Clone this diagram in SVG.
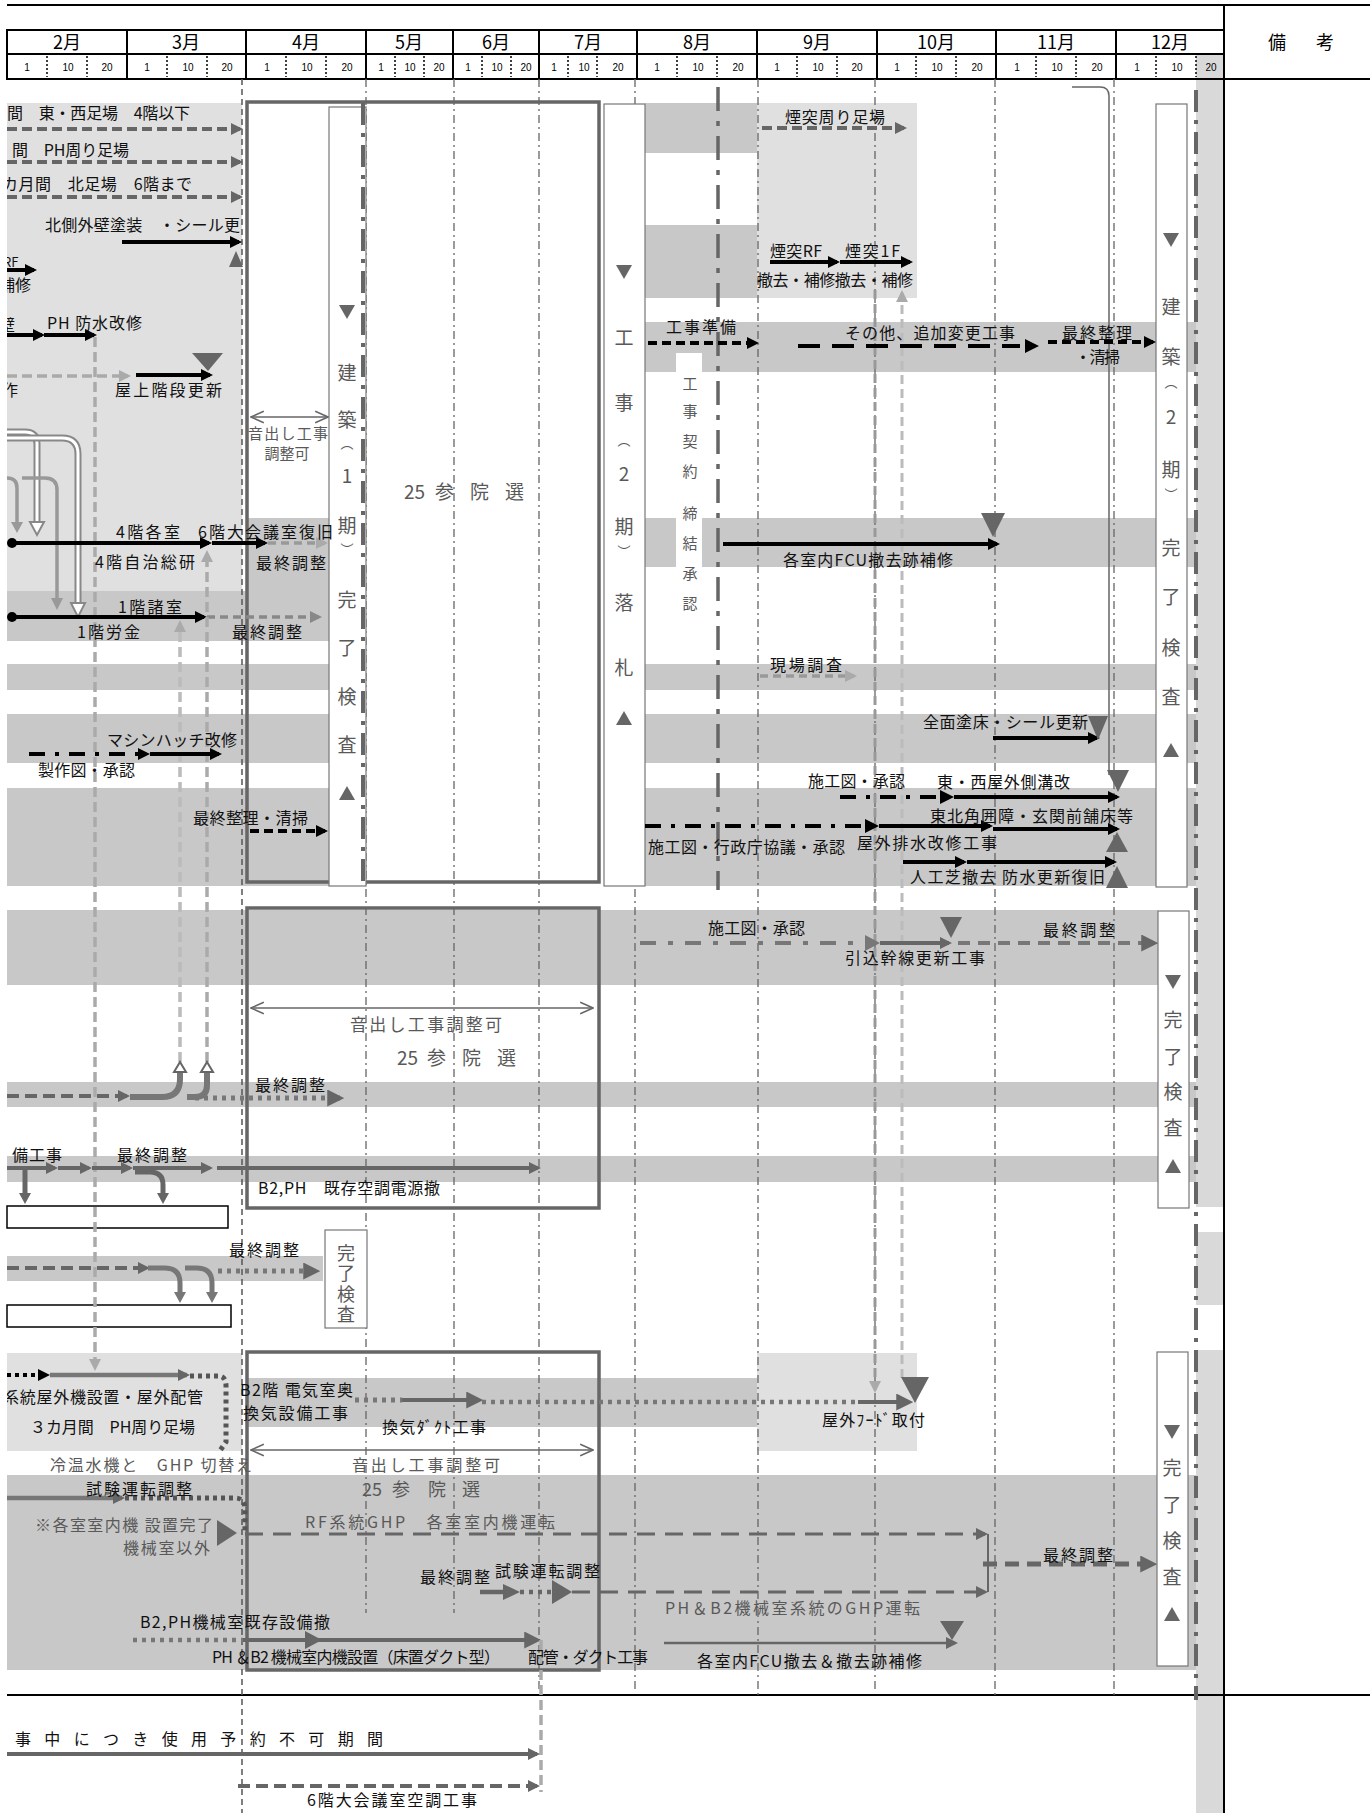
<svg xmlns="http://www.w3.org/2000/svg" width="1370" height="1813" viewBox="0 0 1370 1813">
<defs>
<style>
.t{font-family:"Noto Sans CJK JP","Noto Sans CJK SC",sans-serif;font-size:16px;fill:#111}
.tg{fill:#595959}
.v{font-family:"Noto Sans CJK JP","Noto Sans CJK SC",sans-serif;font-size:19px;text-anchor:middle;fill:#595959}
.p{font-size:13px}
.hm{font-family:"Noto Sans CJK JP","Noto Sans CJK SC",sans-serif;font-size:18px;text-anchor:middle;fill:#000}
.hd{font-family:"Liberation Sans",Arial,sans-serif;font-size:10px;text-anchor:middle;fill:#000}
.band{fill:#c8c8c8}
.lt{fill:#e0e0e0}
.col{fill:#d9d9d9}
.hl{stroke:#000;stroke-width:2;fill:none}
.hdot{stroke:#000;stroke-width:1.5;stroke-dasharray:2 2}
.mv{stroke:#666;stroke-width:1.3;stroke-dasharray:8 4 2 4;fill:none}
.box{fill:none;stroke:#666;stroke-width:3.5}
.wb{fill:#fff;stroke:#777;stroke-width:1.2}
.lb{stroke:#000;stroke-width:4;fill:none}
.lg{stroke:#666;stroke-width:4;fill:none}
.ll{stroke:#aaa;stroke-width:3.5;fill:none}
.dash{stroke-dasharray:10 5}
.dd{stroke-dasharray:16 10 4 10}
.thin{stroke:#666;stroke-width:1.5;fill:none}
.tri{fill:#666}
</style>
<clipPath id="cl"><rect x="7" y="0" width="1363" height="1813"/></clipPath>
<marker id="mb" viewBox="0 0 12 12" markerWidth="13" markerHeight="12" refX="9" refY="6" orient="auto" markerUnits="userSpaceOnUse"><path d="M0,0L12,6L0,12z" fill="#000"/></marker>
<marker id="mg" viewBox="0 0 12 12" markerWidth="13" markerHeight="12" refX="9" refY="6" orient="auto" markerUnits="userSpaceOnUse"><path d="M0,0L12,6L0,12z" fill="#666"/></marker>
<marker id="m9" viewBox="0 0 12 12" markerWidth="13" markerHeight="12" refX="9" refY="6" orient="auto" markerUnits="userSpaceOnUse"><path d="M0,0L12,6L0,12z" fill="#888"/></marker>
<marker id="ml" viewBox="0 0 12 12" markerWidth="13" markerHeight="12" refX="9" refY="6" orient="auto" markerUnits="userSpaceOnUse"><path d="M0,0L12,6L0,12z" fill="#aaa"/></marker>
<marker id="mG" viewBox="0 0 12 12" markerWidth="17" markerHeight="17" refX="9" refY="6" orient="auto" markerUnits="userSpaceOnUse"><path d="M0,0L12,6L0,12z" fill="#666"/></marker>
<marker id="mo" viewBox="0 0 12 12" markerWidth="14" markerHeight="14" refX="11" refY="6" orient="auto-start-reverse" markerUnits="userSpaceOnUse"><path d="M0,1L11,6L0,11" fill="none" stroke="#666" stroke-width="1.3"/></marker>
</defs>
<rect width="1370" height="1813" fill="#fff"/>

<g id="backgrounds" clip-path="url(#cl)">
<rect class="lt" x="7" y="103" width="235" height="488"/>
<rect class="band" x="7" y="591" width="323" height="50"/>
<rect class="band" x="246" y="518" width="84" height="73"/>
<rect class="band" x="7" y="664" width="323" height="26"/>
<rect class="band" x="7" y="714" width="323" height="49"/>
<rect class="band" x="7" y="788" width="323" height="98"/>
<rect class="band" x="645" y="103" width="112" height="50"/>
<rect class="lt" x="757" y="103" width="160" height="195"/>
<rect class="band" x="645" y="225" width="112" height="73"/>
<rect class="band" x="645" y="322" width="551" height="50"/>
<rect class="band" x="645" y="518" width="551" height="49"/>
<rect class="band" x="645" y="664" width="551" height="26"/>
<rect class="band" x="645" y="714" width="551" height="49"/>
<rect class="band" x="645" y="788" width="551" height="98"/>
<rect fill="#fff" x="676" y="353" width="26" height="262"/>
<rect class="band" x="7" y="910" width="1151" height="75"/>
<rect class="band" x="7" y="1082" width="1189" height="25"/>
<rect class="band" x="7" y="1156" width="1189" height="26"/>
<rect class="band" x="7" y="1256" width="316" height="25"/>
<rect class="lt" x="7" y="1353" width="235" height="98"/>
<rect class="lt" x="757" y="1353" width="160" height="98"/>
<rect class="band" x="246" y="1378" width="511" height="49"/>
<rect class="band" x="7" y="1475" width="1189" height="195"/>
<rect class="col" x="1196" y="54" width="28" height="1153"/>
<rect class="col" x="1196" y="1232" width="28" height="73"/>
<rect class="col" x="1196" y="1350" width="28" height="463"/>
</g>

<g id="header">
<line class="hl" x1="7" y1="5" x2="1370" y2="5" stroke-width="1.5"/>
<line class="hl" x1="1224" y1="5" x2="1224" y2="1813"/>
<rect class="hl" x="7" y="30" width="1217" height="49"/>
<line class="hl" x1="7" y1="54" x2="1224" y2="54"/>
<line class="hl" x1="1224" y1="79" x2="1370" y2="79"/>
<line class="hl" x1="7" y1="1695" x2="1370" y2="1695"/>
<g class="hl">
<line x1="127" y1="30" x2="127" y2="79"/><line x1="246" y1="30" x2="246" y2="79"/><line x1="366" y1="30" x2="366" y2="79"/><line x1="453" y1="30" x2="453" y2="79"/><line x1="539" y1="30" x2="539" y2="79"/><line x1="637" y1="30" x2="637" y2="79"/><line x1="757" y1="30" x2="757" y2="79"/><line x1="877" y1="30" x2="877" y2="79"/><line x1="996" y1="30" x2="996" y2="79"/><line x1="1116" y1="30" x2="1116" y2="79"/>
</g>
<g class="hdot">
<line x1="47" y1="56" x2="47" y2="77"/><line x1="87" y1="56" x2="87" y2="77"/><line x1="167" y1="56" x2="167" y2="77"/><line x1="207" y1="56" x2="207" y2="77"/><line x1="286" y1="56" x2="286" y2="77"/><line x1="326" y1="56" x2="326" y2="77"/><line x1="395" y1="56" x2="395" y2="77"/><line x1="424" y1="56" x2="424" y2="77"/><line x1="482" y1="56" x2="482" y2="77"/><line x1="511" y1="56" x2="511" y2="77"/><line x1="568" y1="56" x2="568" y2="77"/><line x1="597" y1="56" x2="597" y2="77"/><line x1="677" y1="56" x2="677" y2="77"/><line x1="717" y1="56" x2="717" y2="77"/><line x1="797" y1="56" x2="797" y2="77"/><line x1="837" y1="56" x2="837" y2="77"/><line x1="916" y1="56" x2="916" y2="77"/><line x1="956" y1="56" x2="956" y2="77"/><line x1="1036" y1="56" x2="1036" y2="77"/><line x1="1076" y1="56" x2="1076" y2="77"/><line x1="1156" y1="56" x2="1156" y2="77"/><line x1="1196" y1="56" x2="1196" y2="77"/>
</g>
<text class="hm" x="67" y="49">2月</text><text class="hm" x="186" y="49">3月</text><text class="hm" x="306" y="49">4月</text><text class="hm" x="409" y="49">5月</text><text class="hm" x="496" y="49">6月</text><text class="hm" x="588" y="49">7月</text><text class="hm" x="697" y="49">8月</text><text class="hm" x="817" y="49">9月</text><text class="hm" x="936" y="49">10月</text><text class="hm" x="1056" y="49">11月</text><text class="hm" x="1170" y="49">12月</text>
<text class="hm" x="1277" y="49">備</text><text class="hm" x="1325" y="49">考</text>
<g class="hd">
<text x="27" y="71">1</text><text x="68" y="71">10</text><text x="107" y="71">20</text>
<text x="147" y="71">1</text><text x="188" y="71">10</text><text x="227" y="71">20</text>
<text x="267" y="71">1</text><text x="307" y="71">10</text><text x="347" y="71">20</text>
<text x="381" y="71">1</text><text x="410" y="71">10</text><text x="439" y="71">20</text>
<text x="468" y="71">1</text><text x="497" y="71">10</text><text x="526" y="71">20</text>
<text x="554" y="71">1</text><text x="584" y="71">10</text><text x="618" y="71">20</text>
<text x="657" y="71">1</text><text x="698" y="71">10</text><text x="738" y="71">20</text>
<text x="777" y="71">1</text><text x="818" y="71">10</text><text x="857" y="71">20</text>
<text x="897" y="71">1</text><text x="937" y="71">10</text><text x="977" y="71">20</text>
<text x="1017" y="71">1</text><text x="1057" y="71">10</text><text x="1097" y="71">20</text>
<text x="1137" y="71">1</text><text x="1177" y="71">10</text><text x="1211" y="71">20</text>
</g>
</g>

<g id="month-lines">
<line x1="242" y1="79" x2="242" y2="1813" stroke="#555" stroke-width="1.5" stroke-dasharray="6 4"/>
<line class="mv" x1="366" y1="79" x2="366" y2="1613"/>
<line class="mv" x1="454" y1="79" x2="454" y2="1613"/>
<line class="mv" x1="539" y1="79" x2="539" y2="1692"/>
<line class="mv" x1="635" y1="79" x2="635" y2="1692"/>
<line class="mv" x1="758" y1="79" x2="758" y2="1697"/>
<line class="mv" x1="875" y1="79" x2="875" y2="1692"/>
<line class="mv" x1="995" y1="79" x2="995" y2="1695"/>
<line class="mv" x1="1114" y1="79" x2="1114" y2="1695"/>
</g>

<g id="box-sanin-1">
<rect class="box" x="247" y="102" width="352" height="780"/>
</g>
<g id="box-kenchiku-1">
<rect class="wb" x="329" y="107" width="37" height="779"/>
<polygon class="tri" points="339,305 355,305 347,319"/>
<text class="v"><tspan x="347" y="380">建</tspan><tspan x="347" y="427">築</tspan><tspan class="p" x="347" y="448">︵</tspan><tspan x="347" y="483">1</tspan><tspan x="347" y="533">期</tspan><tspan class="p" x="347" y="554">︶</tspan><tspan x="347" y="607">完</tspan><tspan x="347" y="655">了</tspan><tspan x="347" y="704">検</tspan><tspan x="347" y="752">査</tspan></text>
<polygon class="tri" points="339,800 355,800 347,786"/>
</g>
<g id="box-kouji-2">
<rect class="wb" x="604" y="104" width="41" height="782"/>
<polygon class="tri" points="616,265 632,265 624,279"/>
<text class="v"><tspan x="624" y="345">工</tspan><tspan x="624" y="410">事</tspan><tspan class="p" x="624" y="445">︵</tspan><tspan x="624" y="481">2</tspan><tspan x="624" y="534">期</tspan><tspan class="p" x="624" y="556">︶</tspan><tspan x="624" y="610">落</tspan><tspan x="624" y="675">札</tspan></text>
<polygon class="tri" points="616,725 632,725 624,711"/>
</g>
<g id="box-kenchiku-2">
<rect class="wb" x="1156" y="104" width="31" height="783"/>
<polygon class="tri" points="1163,233 1179,233 1171,247"/>
<text class="v"><tspan x="1171" y="314">建</tspan><tspan x="1171" y="364">築</tspan><tspan class="p" x="1171" y="387">︵</tspan><tspan x="1171" y="424">2</tspan><tspan x="1171" y="477">期</tspan><tspan class="p" x="1171" y="499">︶</tspan><tspan x="1171" y="555">完</tspan><tspan x="1171" y="604">了</tspan><tspan x="1171" y="655">検</tspan><tspan x="1171" y="704">査</tspan></text>
<polygon class="tri" points="1163,757 1179,757 1171,743"/>
</g>
<g id="keiyaku">
<text class="v" style="font-size:15px"><tspan x="690" y="389">工</tspan><tspan x="690" y="417">事</tspan><tspan x="690" y="447">契</tspan><tspan x="690" y="477">約</tspan><tspan x="690" y="519">締</tspan><tspan x="690" y="549">結</tspan><tspan x="690" y="579">承</tspan><tspan x="690" y="609">認</tspan></text>
</g>
<g id="box-sanin-2">
<rect class="box" x="247" y="908" width="352" height="300"/>
</g>
<g id="box-kanryo-B">
<rect class="wb" x="1158" y="911" width="31" height="297"/>
<polygon class="tri" points="1165,975 1181,975 1173,989"/>
<text class="v"><tspan x="1173" y="1027">完</tspan><tspan x="1173" y="1064">了</tspan><tspan x="1173" y="1099">検</tspan><tspan x="1173" y="1135">査</tspan></text>
<polygon class="tri" points="1165,1173 1181,1173 1173,1159"/>
</g>
<g id="box-kanryo-small">
<rect class="wb" x="325" y="1230" width="42" height="98" stroke="#666"/>
<text x="346" y="1244" style="font-family:'Noto Sans CJK JP','Noto Sans CJK SC',sans-serif;font-size:18px;fill:#595959;writing-mode:vertical-rl;letter-spacing:2.5px">完了検査</text>
</g>
<g id="white-bars">
<rect x="7" y="1206" width="221" height="22" fill="#fff" stroke="#000" stroke-width="1.5"/>
<rect x="7" y="1305" width="224" height="22" fill="#fff" stroke="#000" stroke-width="1.5"/>
</g>
<g id="box-sanin-3">
<rect class="box" x="247" y="1352" width="352" height="318"/>
</g>
<g id="box-kanryo-C">
<rect class="wb" x="1157" y="1352" width="31" height="314"/>
<polygon class="tri" points="1164,1425 1180,1425 1172,1439"/>
<text class="v"><tspan x="1172" y="1475">完</tspan><tspan x="1172" y="1512">了</tspan><tspan x="1172" y="1548">検</tspan><tspan x="1172" y="1584">査</tspan></text>
<polygon class="tri" points="1164,1621 1180,1621 1172,1607"/>
</g>

<g id="connectors" clip-path="url(#cl)">
<line x1="718" y1="87" x2="718" y2="890" stroke="#666" stroke-width="3.5" stroke-dasharray="24 10 5 10"/>
<line x1="363" y1="103" x2="363" y2="886" stroke="#666" stroke-width="4" stroke-dasharray="22 8 4 8"/>
<line x1="1196" y1="90" x2="1196" y2="1700" stroke="#666" stroke-width="4" stroke-dasharray="22 8 4 8"/>
<path class="thin" d="M1072,87H1100Q1109,87 1109,96V775"/>
<line class="lg dash" x1="7" y1="129" x2="240" y2="129" marker-end="url(#mg)"/>
<line class="lg dash" x1="7" y1="162" x2="240" y2="162" marker-end="url(#mg)"/>
<line class="lg dash" x1="7" y1="197" x2="240" y2="197" marker-end="url(#mg)"/>
<line class="lb" x1="122" y1="242" x2="239" y2="242" marker-end="url(#mb)"/>
<polygon class="tri" points="229,267 243,267 236,251"/>
<line class="lb" x1="7" y1="270" x2="34" y2="270" marker-end="url(#mb)"/>
<line class="lb" x1="7" y1="335" x2="42" y2="335" marker-end="url(#mb)"/>
<line class="lb" x1="44" y1="335" x2="94" y2="335" marker-end="url(#mb)"/>
<line class="ll dash" x1="95" y1="337" x2="95" y2="1368" marker-end="url(#ml)"/>
<line class="ll dash" x1="7" y1="376" x2="128" y2="376" marker-end="url(#ml)"/>
<line class="lb" x1="136" y1="375" x2="210" y2="375" marker-end="url(#mb)"/>
<polygon class="tri" points="192,353 223,353 208,371"/>
<path d="M7,432H25Q37,432 37,444V522" stroke="#888" stroke-width="7" fill="none"/>
<path d="M7,432H25Q37,432 37,444V524" stroke="#fff" stroke-width="3" fill="none"/>
<polygon points="30,522 44,522 37,535" fill="#fff" stroke="#888" stroke-width="2"/>
<path d="M7,438H62Q78,438 78,454V603" stroke="#888" stroke-width="7" fill="none"/>
<path d="M7,438H62Q78,438 78,454V605" stroke="#fff" stroke-width="3" fill="none"/>
<polygon points="71,603 85,603 78,617" fill="#fff" stroke="#888" stroke-width="2"/>
<path d="M7,478Q17,478 17,488V524" stroke="#999" stroke-width="3.5" fill="none"/>
<polygon points="11,522 23,522 17,533" fill="#999"/>
<path d="M22,478H45Q57,478 57,490V600" stroke="#999" stroke-width="3.5" fill="none"/>
<polygon points="51,598 63,598 57,610" fill="#999"/>
<circle cx="12" cy="543" r="5" fill="#000"/>
<line class="lb" x1="12" y1="543" x2="209" y2="543" marker-end="url(#mb)"/>
<line class="lb" x1="212" y1="543" x2="265" y2="543" marker-end="url(#mb)"/>
<line x1="268" y1="543" x2="325" y2="543" stroke="#999" stroke-width="3.5" stroke-dasharray="8 5" marker-end="url(#ml)"/>
<circle cx="12" cy="617" r="5" fill="#000"/>
<line class="lb" x1="12" y1="617" x2="204" y2="617" marker-end="url(#mb)"/>
<line x1="207" y1="617" x2="319" y2="617" stroke="#888" stroke-width="3.5" stroke-dasharray="8 5" marker-end="url(#m9)"/>
<line x1="207" y1="1062" x2="207" y2="553" stroke="#aaa" stroke-width="3.5" stroke-dasharray="10 5" marker-end="url(#ml)"/>
<line x1="180" y1="1062" x2="180" y2="623" stroke="#bbb" stroke-width="3.5" stroke-dasharray="10 5" marker-end="url(#ml)"/>
<line class="lb dd" x1="29" y1="754" x2="147" y2="754" marker-end="url(#mb)"/>
<line class="lb" x1="150" y1="754" x2="219" y2="754" marker-end="url(#mb)"/>
<line class="lb" x1="250" y1="831" x2="325" y2="831" stroke-dasharray="9 5" marker-end="url(#mb)"/>
<line x1="251" y1="417" x2="328" y2="417" stroke="#666" stroke-width="1.3" marker-start="url(#mo)" marker-end="url(#mo)"/>
<line class="lg dash" x1="762" y1="128" x2="904" y2="128" marker-end="url(#mg)"/>
<line class="lb" x1="770" y1="262" x2="837" y2="262" marker-end="url(#mb)"/>
<line class="lb" x1="840" y1="262" x2="910" y2="262" marker-end="url(#mb)"/>
<line x1="875" y1="290" x2="875" y2="1390" stroke="#999" stroke-width="3" stroke-dasharray="9 5" marker-end="url(#ml)"/>
<line x1="902" y1="1378" x2="902" y2="293" stroke="#bbb" stroke-width="3" stroke-dasharray="9 5" marker-end="url(#ml)"/>
<line class="lb" x1="648" y1="343" x2="756" y2="343" stroke-dasharray="9 5" marker-end="url(#mb)"/>
<line class="lb" x1="798" y1="346" x2="1020" y2="346" stroke-width="3.5" stroke-dasharray="22 12"/>
<polygon points="1025,339 1039,346 1025,353" fill="#000"/>
<line class="lb" x1="1048" y1="342" x2="1153" y2="342" stroke-dasharray="9 5" marker-end="url(#mb)"/>
<polygon class="tri" points="981,513 1005,513 993,537"/>
<line class="lb" x1="723" y1="544" x2="997" y2="544" stroke-width="3" marker-end="url(#mb)"/>
<line x1="760" y1="676" x2="854" y2="676" stroke="#999" stroke-width="3.5" stroke-dasharray="8 5" marker-end="url(#ml)"/>
<line class="lb" x1="993" y1="738" x2="1097" y2="738" marker-end="url(#mb)"/>
<polygon class="tri" points="1088,716 1108,716 1098,740"/>
<line class="lb dd" x1="840" y1="797" x2="940" y2="797"/>
<polygon points="940,790 954,797 940,804" fill="#000"/>
<line class="lb" x1="954" y1="797" x2="1117" y2="797" marker-end="url(#mb)"/>
<polygon class="tri" points="1107,770 1129,770 1118,792"/>
<line class="lb dd" x1="645" y1="826" x2="865" y2="826"/>
<polygon points="865,819 879,826 865,833" fill="#000"/>
<line class="lb" x1="879" y1="826" x2="990" y2="826" marker-end="url(#mb)"/>
<line class="lb" x1="993" y1="829" x2="1117" y2="829" stroke-width="5" marker-end="url(#mb)"/>
<polygon class="tri" points="1106,852 1128,852 1117,832"/>
<line class="lb" x1="903" y1="862" x2="964" y2="862" marker-end="url(#mb)"/>
<line class="lb" x1="967" y1="862" x2="1114" y2="862" stroke-width="3" marker-end="url(#mb)"/>
<polygon class="tri" points="1106,888 1128,888 1117,866"/>
<line x1="640" y1="943" x2="865" y2="943" stroke="#777" stroke-width="4" stroke-dasharray="16 12 5 12"/>
<polygon points="865,935 880,943 865,951" fill="#777"/>
<line class="lg" x1="880" y1="943" x2="949" y2="943" marker-end="url(#mg)"/>
<polygon class="tri" points="940,917 962,917 951,938"/>
<line x1="958" y1="943" x2="1154" y2="943" stroke="#777" stroke-width="4" stroke-dasharray="12 8" marker-end="url(#mG)"/>
<line x1="251" y1="1008" x2="593" y2="1008" stroke="#666" stroke-width="1.3" marker-start="url(#mo)" marker-end="url(#mo)"/>
<line class="lg" x1="7" y1="1096" x2="127" y2="1096" stroke-dasharray="12 6" marker-end="url(#mg)"/>
<path d="M130,1097H162Q180,1097 180,1079V1070" stroke="#777" stroke-width="6" fill="none"/>
<polygon points="174,1072 186,1072 180,1062" fill="#fff" stroke="#666" stroke-width="2"/>
<path d="M187,1097H195Q207,1097 207,1085V1070" stroke="#777" stroke-width="6" fill="none"/>
<polygon points="201,1072 213,1072 207,1062" fill="#fff" stroke="#666" stroke-width="2"/>
<line x1="195" y1="1098" x2="340" y2="1098" stroke="#777" stroke-width="5" stroke-dasharray="4 5" marker-end="url(#mG)"/>
<line class="lg" x1="7" y1="1168" x2="55" y2="1168" stroke-width="4.5" marker-end="url(#mg)"/>
<line class="lg" x1="58" y1="1168" x2="89" y2="1168" stroke-width="4.5" marker-end="url(#mg)"/>
<line class="lg" x1="92" y1="1168" x2="130" y2="1168" stroke-width="4.5" marker-end="url(#mg)"/>
<line class="lg" x1="133" y1="1168" x2="210" y2="1168" stroke-width="4.5" marker-end="url(#mg)"/>
<line class="lg" x1="217" y1="1168" x2="538" y2="1168" marker-end="url(#mg)"/>
<path d="M25,1168V1195" stroke="#666" stroke-width="5" fill="none"/>
<polygon class="tri" points="19,1193 31,1193 25,1204"/>
<path d="M135,1172H150Q163,1172 163,1185V1195" stroke="#666" stroke-width="5" fill="none"/>
<polygon class="tri" points="157,1193 169,1193 163,1204"/>
<line class="lg" x1="7" y1="1268" x2="147" y2="1268" stroke-dasharray="12 6" marker-end="url(#mg)"/>
<path d="M148,1268H165Q180,1268 180,1283V1294" stroke="#777" stroke-width="5" fill="none"/>
<polygon points="174,1292 186,1292 180,1303" fill="#777"/>
<path d="M185,1268H197Q212,1268 212,1283V1294" stroke="#777" stroke-width="5" fill="none"/>
<polygon points="206,1292 218,1292 212,1303" fill="#777"/>
<line x1="218" y1="1271" x2="316" y2="1271" stroke="#777" stroke-width="5" stroke-dasharray="4 5" marker-end="url(#mG)"/>
<line class="lb" x1="7" y1="1375" x2="47" y2="1375" stroke-dasharray="4 4" marker-end="url(#mb)"/>
<line x1="50" y1="1375" x2="187" y2="1375" stroke="#777" stroke-width="4.5" marker-end="url(#mg)"/>
<path d="M190,1376H218Q226,1376 226,1386V1442L219,1452" stroke="#555" stroke-width="5" stroke-dasharray="4 4" fill="none"/>
<line x1="355" y1="1400" x2="402" y2="1400" stroke="#777" stroke-width="5" stroke-dasharray="4 5"/>
<line class="lg" x1="402" y1="1400" x2="479" y2="1400" stroke-width="5" marker-end="url(#mG)"/>
<line x1="482" y1="1402" x2="858" y2="1402" stroke="#777" stroke-width="4.5" stroke-dasharray="4 5"/>
<line class="lg" x1="858" y1="1402" x2="909" y2="1402" stroke-width="5" marker-end="url(#mG)"/>
<polygon class="tri" points="901,1377 929,1377 915,1403"/>
<line x1="251" y1="1450" x2="593" y2="1450" stroke="#666" stroke-width="1.3" marker-start="url(#mo)" marker-end="url(#mo)"/>
<line x1="7" y1="1498" x2="122" y2="1498" stroke="#777" stroke-width="4.5" marker-end="url(#mg)"/>
<path d="M125,1498H235Q245,1498 245,1510V1532" stroke="#555" stroke-width="5" stroke-dasharray="4 4" fill="none"/>
<polygon class="tri" points="217,1520 237,1533 217,1546"/>
<line x1="245" y1="1534" x2="985" y2="1534" stroke="#666" stroke-width="3" stroke-dasharray="18 10" marker-end="url(#mg)"/>
<line x1="988" y1="1534" x2="988" y2="1592" stroke="#666" stroke-width="2"/>
<line x1="983" y1="1564" x2="1153" y2="1564" stroke="#666" stroke-width="5" stroke-dasharray="14 8" marker-end="url(#mG)"/>
<line x1="480" y1="1592" x2="505" y2="1592" stroke="#666" stroke-width="4.5"/>
<polygon class="tri" points="503,1584 520,1592 503,1600"/>
<line x1="520" y1="1592" x2="552" y2="1592" stroke="#666" stroke-width="4.5" stroke-dasharray="4 5"/>
<polygon class="tri" points="552,1580 572,1592 552,1604"/>
<line x1="572" y1="1592" x2="985" y2="1592" stroke="#666" stroke-width="3" stroke-dasharray="18 10" marker-end="url(#mg)"/>
<line x1="133" y1="1640" x2="243" y2="1640" stroke="#777" stroke-width="4.5" stroke-dasharray="4 5"/>
<line class="lg" x1="243" y1="1640" x2="537" y2="1640" stroke-width="4.5" marker-end="url(#mG)"/>
<polygon class="tri" points="305,1631 322,1640 305,1649"/>
<line x1="541" y1="1640" x2="541" y2="1792" stroke="#aaa" stroke-width="3.5" stroke-dasharray="10 5"/>
<line x1="664" y1="1643" x2="955" y2="1643" stroke="#666" stroke-width="2.5" marker-end="url(#mg)"/>
<polygon class="tri" points="940,1621 964,1621 952,1640"/>
<line class="lg" x1="7" y1="1754" x2="537" y2="1754" marker-end="url(#mg)"/>
<line class="lg" x1="238" y1="1786" x2="537" y2="1786" stroke-dasharray="12 6" marker-end="url(#mg)"/>
</g>

<g id="labels" clip-path="url(#cl)">
<g id="task-ashiba">
<text class="t" x="7" y="119" textLength="183">間　東・西足場　4階以下</text>
<text class="t" x="12" y="156" textLength="117">間　PH周り足場</text>
<text class="t" x="2" y="190" textLength="190">カ月間　北足場　6階まで</text>
</g>
<g id="task-kitagawa"><text class="t" x="45" y="231" textLength="195">北側外壁塗装　・シール更</text></g>
<g id="task-rf"><text class="t" x="3" y="267" style="font-size:13px">RF</text><text class="t" x="-1" y="291">補修</text></g>
<g id="task-ph"><text class="t" x="-1" y="331">壁</text><text class="t" x="47" y="329" textLength="95">PH 防水改修</text></g>
<g id="task-okujo"><text class="t" x="2" y="396">作</text><text class="t" x="115" y="396" textLength="107">屋上階段更新</text></g>
<g id="task-4f">
<text class="t" x="116" y="538" textLength="64">4階各室</text>
<text class="t" x="198" y="538" textLength="135">6階大会議室復旧</text>
<text class="t" x="95" y="568" textLength="100">4階自治総研</text>
<text class="t" x="256" y="569" textLength="70">最終調整</text>
</g>
<g id="task-1f">
<text class="t" x="118" y="613" textLength="64">1階諸室</text>
<text class="t" x="77" y="638" textLength="63">1階労金</text>
<text class="t" x="232" y="638" textLength="70">最終調整</text>
</g>
<g id="task-hatch">
<text class="t" x="107" y="746" textLength="130">マシンハッチ改修</text>
<text class="t" x="38" y="776" textLength="97">製作図・承認</text>
</g>
<g id="task-seiri-1"><text class="t" x="193" y="824" textLength="115">最終整理・清掃</text></g>
<g id="note-otodashi-1">
<text class="t tg" x="248" y="439" style="font-size:15px" textLength="80">音出し工事</text>
<text class="t tg" x="287" y="459" style="font-size:15px;text-anchor:middle">調整可</text>
</g>
<g id="note-sanin-1" class="t tg" style="font-size:19px">
<text x="404" y="499">25</text><text x="435" y="499">参</text><text x="470" y="499">院</text><text x="505" y="499">選</text>
</g>
<g id="task-entotsu">
<text class="t" x="785" y="123" textLength="100">煙突周り足場</text>
<text class="t" x="770" y="257" textLength="52">煙突RF</text>
<text class="t" x="845" y="257" textLength="55">煙突1F</text>
<text class="t" x="757" y="286" textLength="156">撤去・補修撤去・補修</text>
</g>
<g id="task-junbi">
<text class="t" x="666" y="333" textLength="70">工事準備</text>
<text class="t" x="845" y="339" textLength="170">その他、追加変更工事</text>
<text class="t" x="1062" y="339" textLength="70">最終整理</text>
<text class="t" x="1075" y="363" textLength="45">・清掃</text>
</g>
<g id="task-fcu-1"><text class="t" x="783" y="566" textLength="170">各室内FCU撤去跡補修</text></g>
<g id="task-chosa"><text class="t" x="770" y="671" textLength="72">現場調査</text></g>
<g id="task-tokyuka"><text class="t" x="923" y="728" textLength="165">全面塗床・シール更新</text></g>
<g id="task-gaiko">
<text class="t" x="808" y="787" textLength="97">施工図・承認</text>
<text class="t" x="937" y="788" textLength="133">東・西屋外側溝改</text>
<text class="t" x="930" y="822" textLength="203">東北角囲障・玄関前舗床等</text>
<text class="t" x="648" y="853" textLength="197">施工図・行政庁協議・承認</text>
<text class="t" x="857" y="849" textLength="140">屋外排水改修工事</text>
<text class="t" x="910" y="883" textLength="195">人工芝撤去 防水更新復旧</text>
</g>
<g id="task-hikikomi">
<text class="t" x="708" y="934" textLength="97">施工図・承認</text>
<text class="t" x="1043" y="936" textLength="72">最終調整</text>
<text class="t" x="845" y="964" textLength="140">引込幹線更新工事</text>
</g>
<g id="note-otodashi-2">
<text class="t tg" x="350" y="1031" style="font-size:17px" textLength="152">音出し工事調整可</text>
</g>
<g id="note-sanin-2" class="t tg" style="font-size:19px">
<text x="397" y="1065">25</text><text x="427" y="1065">参</text><text x="462" y="1065">院</text><text x="497" y="1065">選</text>
</g>
<g id="task-chosei-B1"><text class="t" x="255" y="1091" textLength="70">最終調整</text></g>
<g id="task-setsubi">
<text class="t" x="12" y="1161" textLength="50">備工事</text>
<text class="t" x="117" y="1161" textLength="70">最終調整</text>
<text class="t" x="258" y="1194" textLength="182">B2,PH　既存空調電源撤</text>
</g>
<g id="task-chosei-B3"><text class="t" x="229" y="1256" textLength="70">最終調整</text></g>
<g id="task-okugai">
<text class="t" x="3" y="1403" textLength="200">系統屋外機設置・屋外配管</text>
<text class="t" x="1" y="1433">）</text>
<text class="t" x="30" y="1433" textLength="165">３カ月間　PH周り足場</text>
</g>
<g id="task-kanki">
<text class="t" x="240" y="1396" textLength="113">B2階 電気室奥</text>
<text class="t" x="243" y="1419" textLength="105">換気設備工事</text>
<text class="t" x="382" y="1433" textLength="104">換気ﾀﾞｸﾄ工事</text>
<text class="t" x="822" y="1426" textLength="103">屋外ﾌｰﾄﾞ取付</text>
</g>
<g id="note-otodashi-3">
<text class="t tg" x="352" y="1471" style="font-size:16px" textLength="148">音出し工事調整可</text>
</g>
<g id="note-sanin-3" class="t tg" style="font-size:18px">
<text x="362" y="1496">25</text><text x="392" y="1496">参</text><text x="428" y="1496">院</text><text x="462" y="1496">選</text>
</g>
<g id="task-ghp">
<text class="t tg" x="50" y="1471" textLength="202">冷温水機と　GHP 切替え</text>
<text class="t" x="86" y="1495" textLength="106">試験運転調整</text>
<text class="t tg" x="35" y="1531" textLength="178">※各室室内機 設置完了</text>
<text class="t tg" x="123" y="1554" textLength="87">機械室以外</text>
<text class="t tg" x="305" y="1528" textLength="250">RF系統GHP　各室室内機運転</text>
<text class="t" x="1043" y="1561" textLength="70">最終調整</text>
<text class="t" x="420" y="1583" textLength="70">最終調整</text>
<text class="t" x="495" y="1577" textLength="105">試験運転調整</text>
<text class="t tg" x="665" y="1614" textLength="255">PH＆B2機械室系統のGHP運転</text>
</g>
<g id="task-kikai">
<text class="t" x="140" y="1628" textLength="190">B2,PH機械室既存設備撤</text>
<text class="t" x="212" y="1663" textLength="288">PH ＆B2 機械室内機設置（床置ダクト型）</text>
<text class="t" x="528" y="1663" textLength="120">配管・ダクト工事</text>
<text class="t" x="697" y="1667" textLength="225">各室内FCU撤去＆撤去跡補修</text>
</g>
<g id="task-yoyaku">
<text class="t" x="15" y="1745" textLength="368">事　中　に　つ　き　使　用　予　約　不　可　期　間</text>
<text class="t" x="307" y="1806" textLength="170">6階大会議室空調工事</text>
</g>
</g>
</svg>
